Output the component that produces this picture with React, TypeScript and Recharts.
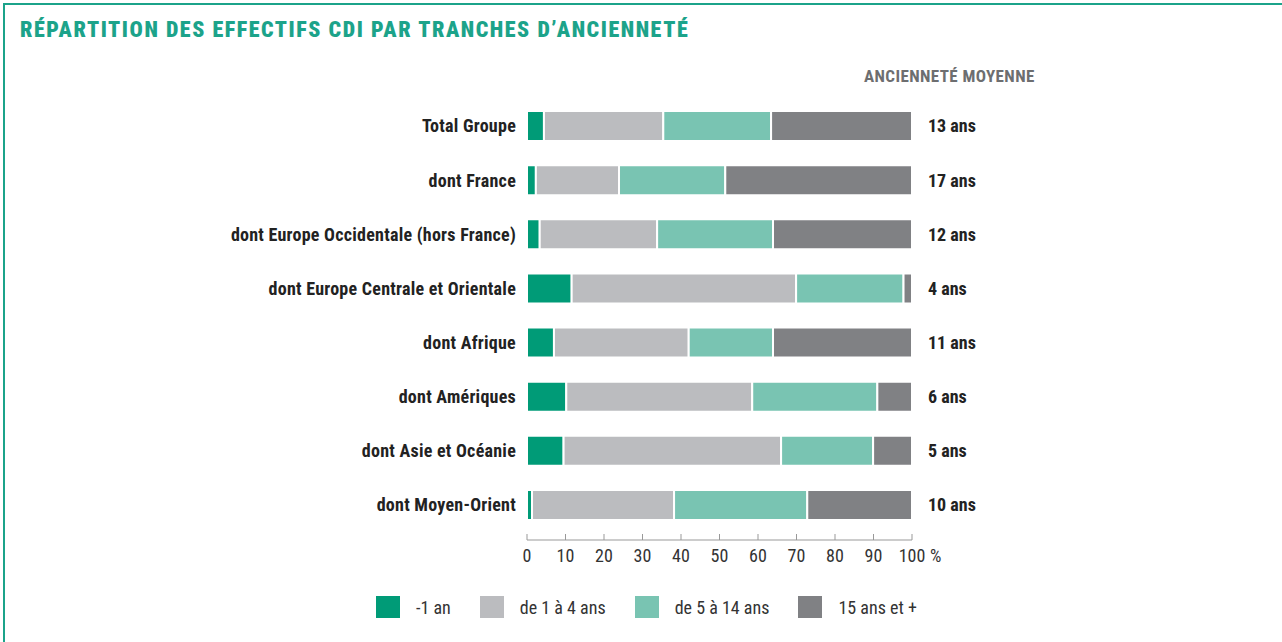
import React from "react"
import { BarChart, Bar, XAxis, YAxis, LabelList } from "recharts"

const CATEGORIES = [
  "Total Groupe",
  "dont France",
  "dont Europe Occidentale (hors France)",
  "dont Europe Centrale et Orientale",
  "dont Afrique",
  "dont Amériques",
  "dont Asie et Océanie",
  "dont Moyen-Orient",
]

// % des effectifs CDI par tranche
const MOINS_UN = [4.4, 2.3, 3.3, 11.6, 7.0, 10.2, 9.5, 1.3]
const UN_A_QUATRE = [31.0, 21.6, 30.5, 58.3, 35.0, 48.3, 56.5, 36.9]
const CINQ_A_QUATORZE = [28.0, 27.6, 30.1, 27.9, 21.9, 32.5, 23.9, 34.6]
const QUINZE_PLUS = [36.6, 48.5, 36.1, 2.2, 36.1, 9.0, 10.1, 27.2]

// ancienneté moyenne (ans)
const MOYENNE = [13, 17, 12, 4, 11, 6, 5, 10]

const X_TICKS = [0, 10, 20, 30, 40, 50, 60, 70, 80, 90, 100]

const SERIES = [
  { key: "moinsUn", label: "-1 an", color: "#009b77" },
  { key: "unAQuatre", label: "de 1 à 4 ans", color: "#bbbcbf" },
  { key: "cinqAQuatorze", label: "de 5 à 14 ans", color: "#79c4b2" },
  { key: "quinzePlus", label: "15 ans et +", color: "#808184" },
]

const data = CATEGORIES.map((name, i) => ({
  name,
  moinsUn: MOINS_UN[i],
  unAQuatre: UN_A_QUATRE[i],
  cinqAQuatorze: CINQ_A_QUATORZE[i],
  quinzePlus: QUINZE_PLUS[i],
  moyenne: MOYENNE[i],
}))

const FONT = '"Liberation Sans Narrow", "Roboto Condensed", "DejaVu Sans Condensed", Arial, sans-serif'

const XTick = ({ x, y, payload }: { x?: number; y?: number; payload?: { value: number } }) => {
  const v = payload?.value ?? 0
  return (
    <g>
      <text x={x} y={(y ?? 0) + 18} textAnchor="middle" fill="#333" fontSize={18} fontFamily={FONT}>
        {v}
      </text>
      {v === 100 && (
        <text x={(x ?? 0) + 18} y={(y ?? 0) + 18} textAnchor="start" fill="#333" fontSize={18} fontFamily={FONT}>
          %
        </text>
      )}
    </g>
  )
}

export default function App() {
  return (
    <div style={{ position: "absolute", left: 0, top: 0, width: 1282, height: 642, background: "#fff", fontFamily: FONT, overflow: "hidden" }}>
      <div style={{ position: "absolute", left: 3, top: 3, right: 0, bottom: 0, borderTop: "2px solid #1ba38a", borderLeft: "2px solid #1ba38a" }} />
      <div style={{ position: "absolute", left: 20, top: 17, fontSize: 22, fontWeight: 900, color: "#1ca38a", letterSpacing: 1.55, whiteSpace: "nowrap" }}>
        RÉPARTITION DES EFFECTIFS CDI PAR TRANCHES D’ANCIENNETÉ
      </div>
      <div style={{ position: "absolute", left: 864, top: 66, fontSize: 17, fontWeight: 700, color: "#6d6e70", letterSpacing: 0.4, whiteSpace: "nowrap" }}>
        ANCIENNETÉ MOYENNE
      </div>

      <div style={{ position: "absolute", left: 0, top: 0 }}>
        <BarChart
          width={1282}
          height={642}
          data={data}
          layout="vertical"
          margin={{ top: 99, right: 370, left: 0, bottom: 72 }}
          barCategoryGap={0}
        >
          <XAxis
            type="number"
            domain={[0, 100]}
            ticks={X_TICKS}
            interval={0}
            height={30}
            axisLine={{ stroke: "#999" }}
            tickLine={{ stroke: "#999" }}
            tickSize={-6}
            tickMargin={10}
            tick={<XTick />}
          />
          <YAxis
            type="category"
            dataKey="name"
            width={527}
            padding={{ top: 0, bottom: 8 }}
            axisLine={false}
            tickLine={false}
            tickMargin={5}
            tick={{ fill: "#222", fontSize: 18, fontWeight: 700, fontFamily: FONT, letterSpacing: 0.25 }}
          />
          {SERIES.map((s, idx) => (
            <Bar
              key={s.key}
              dataKey={s.key}
              stackId="a"
              fill={s.color}
              stroke="#fff"
              strokeWidth={2}
              barSize={30}
              isAnimationActive={false}
            >
              {idx === SERIES.length - 1 && (
                <LabelList
                  dataKey="moyenne"
                  position="right"
                  offset={16}
                  formatter={(v: number) => `${v} ans`}
                  fill="#222"
                  fontSize={18}
                  fontWeight={700}
                  fontFamily={FONT}
                />
              )}
            </Bar>
          ))}
        </BarChart>
      </div>

      <div style={{ position: "absolute", left: 376, top: 596, display: "flex", alignItems: "center", fontSize: 18, color: "#333" }}>
        {SERIES.map((s) => (
          <div key={s.key} style={{ display: "flex", alignItems: "center", marginRight: 29 }}>
            <span style={{ display: "inline-block", width: 24, height: 22, background: s.color, marginRight: 16 }} />
            <span>{s.label}</span>
          </div>
        ))}
      </div>
    </div>
  )
}
